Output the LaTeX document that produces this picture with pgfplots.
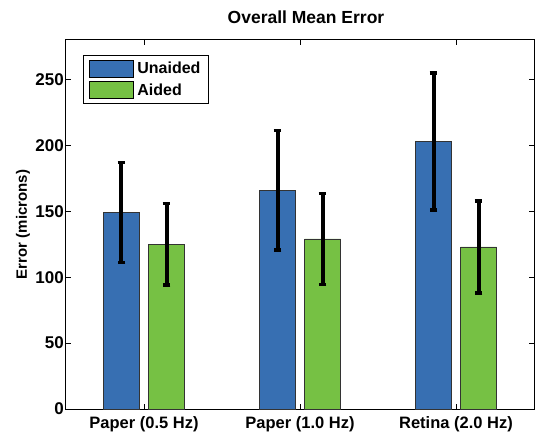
\documentclass[border=0pt]{standalone}
\usepackage{fontspec}
\setmainfont{Liberation Sans}
\usepackage{pgfplots}
\pgfplotsset{compat=1.18}
\definecolor{bblue}{RGB}{55,111,178}
\definecolor{bgreen}{RGB}{118,193,68}
\begin{document}
\begin{tikzpicture}
\begin{axis}[
 name=ax,
 scale only axis, width=468pt, height=369pt,
 xmin=0.5, xmax=3.5, ymin=0, ymax=280,
 ybar=9pt, bar width=36pt,
 xtick={1,2,3}, xticklabels={Paper (0.5 Hz),Paper (1.0 Hz),Retina (2.0 Hz)},
 ytick={0,50,...,250},
 tick align=inside, major tick length=5pt,
 tick style={black, line width=0.8pt},
 axis line style={line width=1pt},
 /pgf/number format/assume math mode=true,
 xticklabel style={font=\bfseries\fontsize{16.5}{19}\selectfont, yshift=-4pt},
 yticklabel style={font=\bfseries\fontsize{17}{19}\selectfont, inner xsep=2pt},
 title={Overall Mean Error},
 title style={font=\bfseries\fontsize{17.5}{20}\selectfont, at={(0.5,1)}, anchor=base, yshift=10.7pt, xshift=6pt},
 ylabel={Error (microns)},
 ylabel style={font=\bfseries\fontsize{15}{18}\selectfont, xshift=0pt},
 legend style={at={(0,1)}, anchor=north west, xshift=16.7pt, yshift=-15pt,
   font=\bfseries\fontsize{16}{19}\selectfont, draw=black, line width=1.2pt,
   row sep=4pt, column sep=2pt, inner xsep=6pt, inner ysep=4pt},
 legend cell align=left,
 legend image code/.code={\draw[#1, draw=black, line width=0.8pt] (0pt,-8.5pt) rectangle (43.3pt,8.5pt);},
]
\addplot[fill=bblue, draw=black!80, line width=0.6pt,
  error bars/.cd, y dir=both, y explicit,
  error bar style={line width=4pt, black},
  error mark options={rotate=90, line width=3.5pt, mark size=3.8pt, black}]
  coordinates {(1,149) +- (0,38) (2,166) +- (0,45.5) (3,203) +- (0,52)};
\addplot[fill=bgreen, draw=black!80, line width=0.6pt,
  error bars/.cd, y dir=both, y explicit,
  error bar style={line width=4pt, black},
  error mark options={rotate=90, line width=3.5pt, mark size=3.8pt, black}]
  coordinates {(1,125) +- (0,31) (2,129) +- (0,34.5) (3,123) +- (0,35)};
\legend{Unaided,Aided}
\end{axis}
\path ([xshift=-66pt,yshift=-25pt]ax.south west) rectangle ([xshift=1pt,yshift=40pt]ax.north east);
\end{tikzpicture}
\end{document}
